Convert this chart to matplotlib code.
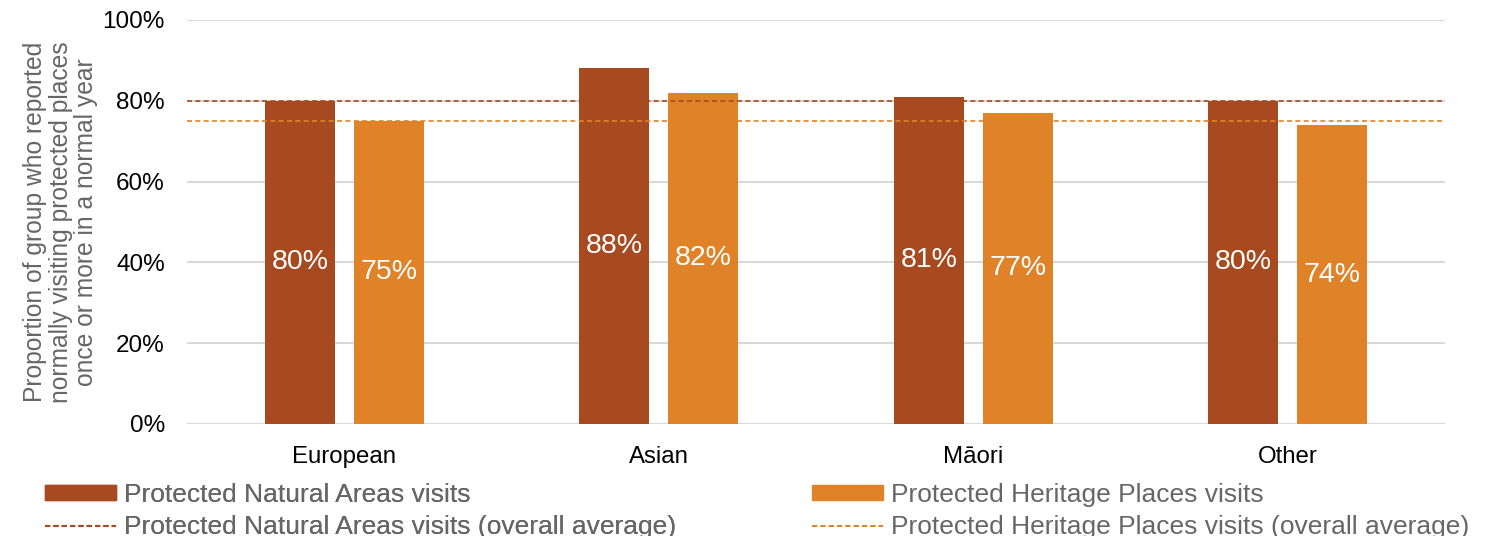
import numpy as np
import matplotlib
matplotlib.use("Agg")
from matplotlib import pyplot as plt
from matplotlib.patches import Patch
from matplotlib.lines import Line2D

# groups and visit shares (%)
groups = ["European", "Asian", "Māori", "Other"]
natural = [80, 88, 81, 80]
heritage = [75, 82, 77, 74]
natural_avg = 80
heritage_avg = 75

DARK = "#A84A20"
ORANGE = "#E08228"

plt.rcParams['font.family'] = ['Liberation Sans', 'DejaVu Sans']

fig = plt.figure(figsize=(14.89, 5.36), dpi=100)
ax = fig.add_axes([0.1256, 0.209, 0.8449, 0.7537])

x = np.arange(len(groups))
w = 0.223
off = w / 2 + 0.03
b1 = ax.bar(x - off, natural, w, color=DARK, zorder=2)
b2 = ax.bar(x + off, heritage, w, color=ORANGE, zorder=2)

# value labels in the middle of each bar
for bars, vals in ((b1, natural), (b2, heritage)):
    for r, v in zip(bars, vals):
        ax.text(r.get_x() + r.get_width() / 2, v / 2, "%d%%" % v,
                ha="center", va="center", color="white", fontsize=20.5, zorder=4)

ax.axhline(natural_avg, color=DARK, lw=1.2, dashes=(3, 2), zorder=3)
ax.axhline(heritage_avg, color=ORANGE, lw=1.2, dashes=(3, 2), zorder=3)

ax.set_xlim(-0.5, 3.5)
ax.set_ylim(0, 100)
ax.set_yticks(range(0, 101, 20))
ax.set_yticklabels(["%d%%" % t for t in range(0, 101, 20)], fontsize=17.5)
ax.set_xticks(x)
ax.set_xticklabels(groups, fontsize=17.3)
ax.tick_params(length=0)
ax.tick_params(axis="x", pad=16)
ax.tick_params(axis="y", pad=16)
ax.grid(axis="y", color="#d9d9d9", lw=1.5, zorder=0)
ax.set_axisbelow(True)
for s in ax.spines.values():
    s.set_visible(False)

ax.set_ylabel("Proportion of group who reported\nnormally visiting protected places\nonce or more in a normal year",
              fontsize=17.7, color="#666666", linespacing=1.08, labelpad=3)

leg_kw = dict(frameon=False, fontsize=19, labelcolor="#666666", handlelength=2.7,
              handleheight=0.45, handletextpad=0.3, labelspacing=0.3, borderpad=0,
              borderaxespad=0)
h1 = [Patch(color=DARK), Line2D([], [], color=DARK, lw=1.5, dashes=(2.5, 1.5))]
l1 = ["Protected Natural Areas visits", "Protected Natural Areas visits (overall average)"]
h2 = [Patch(color=ORANGE), Line2D([], [], color=ORANGE, lw=1.5, dashes=(2.5, 1.5))]
l2 = ["Protected Heritage Places visits", "Protected Heritage Places visits (overall average)"]
lg1 = fig.legend(h1, l1, loc="upper left", bbox_to_anchor=(0.030, 0.099), **leg_kw)
fig.add_artist(lg1)
fig.legend(h2, l2, loc="upper left", bbox_to_anchor=(0.545, 0.099), **leg_kw)

fig.savefig("out.png", dpi=100)
